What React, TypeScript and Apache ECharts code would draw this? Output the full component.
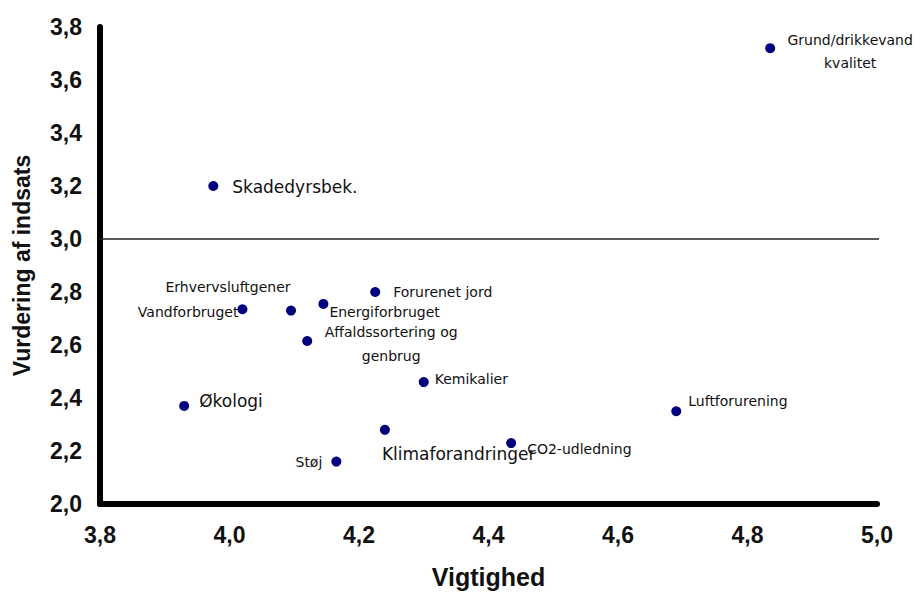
import React, { useEffect, useRef } from "react";
import * as echarts from "echarts";

// ---- data ----
const pointNames: string[] = [
  "Grund/drikkevand\nkvalitet",
  "Skadedyrsbek.",
  "Erhvervsluftgener",
  "Vandforbruget",
  "Energiforbruget",
  "Forurenet jord",
  "Affaldssortering og\ngenbrug",
  "Kemikalier",
  "Økologi",
  "Klimaforandringer",
  "CO2-udledning",
  "Støj",
  "Luftforurening",
];
const importance: number[] = [4.835, 3.975, 4.095, 4.02, 4.145, 4.225, 4.12, 4.3, 3.93, 4.24, 4.435, 4.165, 4.69];
const rating: number[] = [3.72, 3.2, 2.73, 2.735, 2.755, 2.8, 2.615, 2.46, 2.37, 2.28, 2.23, 2.16, 2.35];

const xMin = 3.8;
const xMax = 5.0;
const yMin = 2.0;
const yMax = 3.8;
const tickStep = 0.2;
const thresholdValue = 3.0;
const thresholdEndX = 5.035;

const xAxisTitle = "Vigtighed";
const yAxisTitle = "Vurdering af indsats";

// ---- label layout (positions / styles only) ----
type LabelLayout = { align: string; offset: [number, number]; size: number; lineHeight?: number };
const labelLayout: Record<string, LabelLayout> = {
  "Grund/drikkevand\nkvalitet": { align: "center", offset: [80, 3], size: 14, lineHeight: 23 },
  "Skadedyrsbek.": { align: "left", offset: [19, 1], size: 17 },
  Erhvervsluftgener: { align: "center", offset: [-63, -24], size: 14 },
  Vandforbruget: { align: "right", offset: [-4, 3], size: 14 },
  Energiforbruget: { align: "left", offset: [6, 8], size: 14 },
  "Forurenet jord": { align: "left", offset: [18, 0], size: 14 },
  "Affaldssortering og\ngenbrug": { align: "center", offset: [84, 3], size: 14, lineHeight: 24 },
  Kemikalier: { align: "left", offset: [11, -3], size: 14 },
  "Økologi": { align: "left", offset: [15, -5], size: 17 },
  Klimaforandringer: { align: "left", offset: [-3, 24], size: 17 },
  "CO2-udledning": { align: "left", offset: [16, 6], size: 14 },
  "Støj": { align: "right", offset: [-14, 0], size: 14 },
  Luftforurening: { align: "left", offset: [12, -10], size: 14 },
};

const fmt = (v: number) => v.toFixed(1).replace(".", ",");

export default function App() {
  const ref = useRef<HTMLDivElement>(null);

  useEffect(() => {
    if (!ref.current) return;
    const chart = echarts.init(ref.current, undefined, { renderer: "svg" });

    const points = pointNames.map((name, i) => {
      const l = labelLayout[name];
      return {
        name,
        value: [importance[i], rating[i]],
        label: {
          show: true,
          position: "inside",
          align: l.align,
          verticalAlign: "middle",
          offset: l.offset,
          fontSize: l.size,
          lineHeight: l.lineHeight ?? l.size + 4,
          color: "#111111",
          fontFamily: "DejaVu Sans",
          formatter: "{b}",
        },
      };
    });

    chart.setOption({
      animation: false,
      backgroundColor: "#ffffff",
      grid: { left: 100, right: 46, top: 27, bottom: 89, containLabel: false },
      xAxis: {
        type: "value",
        min: xMin,
        max: xMax,
        interval: tickStep,
        name: xAxisTitle,
        nameLocation: "middle",
        nameGap: 60,
        nameTextStyle: { fontFamily: "Liberation Sans", fontWeight: "bold", fontSize: 25, color: "#111" },
        axisLine: { show: true, onZero: false, lineStyle: { color: "#000", width: 6, cap: "round" } },
        axisTick: { show: false },
        splitLine: { show: false },
        axisLabel: {
          formatter: fmt,
          margin: 19,
          fontFamily: "Liberation Sans",
          fontWeight: "bold",
          fontSize: 23,
          color: "#111",
        },
      },
      yAxis: {
        type: "value",
        min: yMin,
        max: yMax,
        interval: tickStep,
        name: yAxisTitle,
        nameLocation: "middle",
        nameGap: 67,
        nameRotate: 90,
        nameTextStyle: { fontFamily: "Liberation Sans", fontWeight: "bold", fontSize: 23, color: "#111" },
        axisLine: { show: true, onZero: false, lineStyle: { color: "#000", width: 6, cap: "round" } },
        axisTick: { show: false },
        splitLine: { show: false },
        axisLabel: {
          formatter: fmt,
          margin: 18,
          fontFamily: "Liberation Sans",
          fontWeight: "bold",
          fontSize: 23,
          color: "#111",
        },
      },
      series: [
        {
          type: "line",
          data: [
            [xMin, thresholdValue],
            [thresholdEndX, thresholdValue],
          ],
          clip: false,
          symbol: "none",
          silent: true,
          lineStyle: { color: "#222", width: 1.5 },
          z: 1,
        },
        {
          type: "scatter",
          data: points,
          symbol: "circle",
          symbolSize: 10,
          itemStyle: { color: "#00007f", opacity: 1 },
          clip: false,
          z: 3,
        },
      ],
    });

    return () => chart.dispose();
  }, []);

  return (
    <div
      ref={ref}
      style={{ position: "absolute", left: 0, top: 0, width: 923, height: 594, background: "#fff" }}
    />
  );
}
